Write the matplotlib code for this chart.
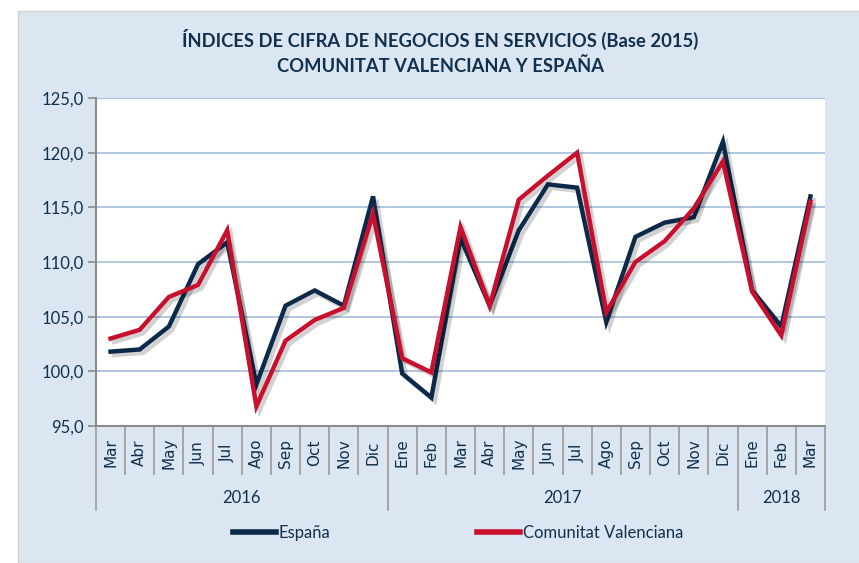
import numpy as np
import matplotlib
matplotlib.use("Agg")
import matplotlib.pyplot as plt
import matplotlib.patheffects as pe
from matplotlib.patches import Rectangle
from matplotlib.lines import Line2D

# ----------------------------
# Data
# ----------------------------
months = ["Mar", "Abr", "May", "Jun", "Jul", "Ago", "Sep", "Oct", "Nov", "Dic",
          "Ene", "Feb", "Mar", "Abr", "May", "Jun", "Jul", "Ago", "Sep", "Oct", "Nov", "Dic",
          "Ene", "Feb", "Mar"]
years = ["2016", "2017", "2018"]
months_per_year = [10, 12, 3]

espana = [101.8, 102.0, 104.1, 109.8, 111.8, 98.8, 106.0, 107.4, 106.0, 116.0,
          99.8, 97.6, 112.2, 106.0, 112.9, 117.1, 116.8, 104.5, 112.3, 113.6, 114.1, 121.0,
          107.4, 104.1, 116.0]
cvalenciana = [103.0, 103.8, 106.8, 107.9, 112.9, 96.8, 102.8, 104.7, 105.8, 114.4,
               101.2, 99.9, 113.2, 106.0, 115.7, 117.9, 120.0, 105.4, 110.0, 111.9, 114.9, 119.2,
               107.3, 103.3, 115.5]

NAVY = "#0b2a4a"
RED = "#c8102e"
BG = "#dce6f2"
GRID = "#a9c1df"
TXT = "#10304f"
FONT = "Lato"

# ----------------------------
# Figure
# ----------------------------
fig = plt.figure(figsize=(8.59, 5.63), dpi=100)
fig.patches.append(Rectangle((18 / 859, 0), 1, (563 - 11) / 563, transform=fig.transFigure,
                             facecolor=BG, edgecolor="#d0d0d0", lw=1.0, zorder=-10))

ax = fig.add_axes([96 / 859, (563 - 426) / 563, (825 - 96) / 859, (426 - 98) / 563])
ax.set_facecolor("white")

x = np.arange(len(months))
# sombra suave bajo las líneas
shadow = [pe.SimpleLineShadow(offset=(2.5, -2.5), shadow_color="black", alpha=0.18), pe.Normal()]
ax.plot(x, espana, color=NAVY, lw=3.2, solid_joinstyle="miter", path_effects=shadow, zorder=3)
ax.plot(x, cvalenciana, color=RED, lw=3.2, solid_joinstyle="miter", path_effects=shadow, zorder=4)

ax.set_xlim(-0.5, len(months) - 0.5)
ax.set_ylim(95, 125)
yt = np.arange(95, 126, 5)
ax.set_yticks(yt)
ax.set_yticklabels([f"{v:.1f}".replace(".", ",") for v in yt], fontfamily=FONT, fontsize=12, color=TXT)
ax.tick_params(axis="y", length=6, color="#8c8c8c", width=1.2, pad=3)
ax.set_xticks([])
ax.grid(axis="y", color=GRID, lw=1.3, zorder=1)
ax.set_axisbelow(True)
for s in ["top", "right"]:
    ax.spines[s].set_visible(False)
for s in ["left", "bottom"]:
    ax.spines[s].set_color("#8c8c8c")
    ax.spines[s].set_linewidth(1.5)
# top gridline at 125
ax.axhline(125, color=GRID, lw=1.6, zorder=1)

# category axis: month labels, separators, year labels
trans = ax.get_xaxis_transform()
h = 426 - 98
for i, m in enumerate(months):
    ax.text(i, -(453 - 426) / h, m, rotation=90, ha="center", va="center",
            fontsize=11, color=TXT, family="DejaVu Sans", transform=trans)
bounds = np.concatenate([[0], np.cumsum(months_per_year)])
for b in range(len(months) + 1):
    low = -(510 - 426) / h if b in bounds else -(474 - 426) / h
    ax.plot([b - 0.5, b - 0.5], [0, low], color="#9a9a9a", lw=1.2, transform=trans, clip_on=False)
for k, yr in enumerate(years):
    mid = (bounds[k] + bounds[k + 1] - 1) / 2
    ax.text(mid, -(498 - 426) / h, yr, ha="center", va="center", fontsize=12,
            color=TXT, family=FONT, transform=trans)

# title
fig.text(440 / 859, 1 - 39 / 563, "ÍNDICES DE CIFRA DE NEGOCIOS EN SERVICIOS (Base 2015)",
         ha="center", va="center", fontsize=13.2, fontweight="bold", color=TXT, family=FONT)
fig.text(440 / 859, 1 - 66 / 563, "COMUNITAT VALENCIANA Y ESPAÑA",
         ha="center", va="center", fontsize=13.2, fontweight="bold", color=TXT, family=FONT)

# legend
handles = [Line2D([], [], color=NAVY, lw=4), Line2D([], [], color=RED, lw=4)]
leg = fig.legend(handles, ["España", "Comunitat Valenciana"], loc="center",
                 bbox_to_anchor=(458 / 859, 1 - 533 / 563), ncol=2, frameon=False,
                 handlelength=2.6, handletextpad=0.15, columnspacing=8.8,
                 prop={"family": FONT, "size": 12})
for t in leg.get_texts():
    t.set_color(TXT)

fig.savefig("out.png", dpi=100)
